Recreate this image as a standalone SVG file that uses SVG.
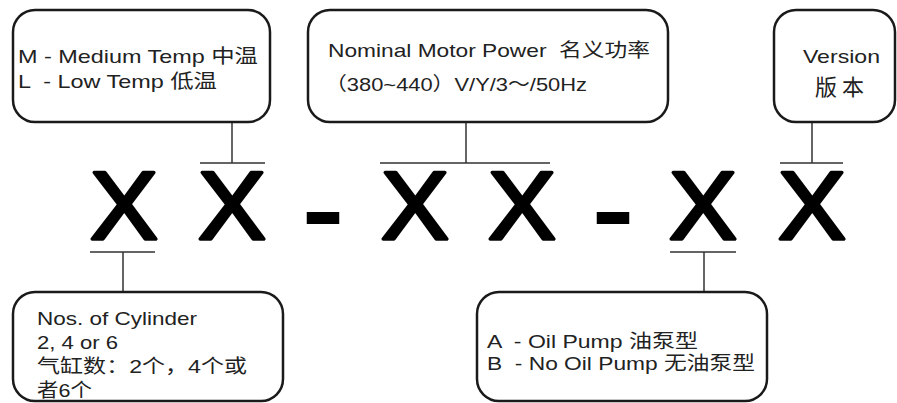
<svg xmlns="http://www.w3.org/2000/svg" width="897" height="403" viewBox="0 0 897 403">
<style>
.box{fill:#fff;stroke:#1a1a1a;stroke-width:2.5}
.t{font-family:"Liberation Sans","Noto Sans CJK SC",sans-serif;font-size:19px;fill:#222;white-space:pre}
.big{font-family:"Liberation Sans",Arial,sans-serif;font-size:97px;fill:#000;stroke:#000;stroke-width:3.5;stroke-linejoin:round;text-anchor:middle}
.dash{font-family:"Liberation Sans",Arial,sans-serif;font-size:100px;font-weight:bold;fill:#000;text-anchor:middle}
.c{stroke:#333;stroke-width:1.5;fill:none}
</style>
<rect width="897" height="403" fill="#fff"/>
<g id="connectors">
<path class="c" d="M232 122V163M200 163H265"/>
<path class="c" d="M466 122V163M380 163H550"/>
<path class="c" d="M812 122V163M780 163H843"/>
<path class="c" d="M90 252H155M123 252V292"/>
<path class="c" d="M670 252H736M704 252V292"/>
</g>
<g id="code">
<text class="big" transform="translate(124,239) scale(1.05,1)">X</text>
<text class="big" transform="translate(232,239) scale(1.05,1)">X</text>
<text class="dash" transform="translate(323,244) scale(1.28,1)">-</text>
<text class="big" transform="translate(415,239) scale(1.05,1)">X</text>
<text class="big" transform="translate(522,239) scale(1.05,1)">X</text>
<text class="dash" transform="translate(613,244) scale(1.28,1)">-</text>
<text class="big" transform="translate(703,239) scale(1.05,1)">X</text>
<text class="big" transform="translate(812,239) scale(1.05,1)">X</text>
</g>
<g id="temp">
<rect class="box" x="13" y="10" width="257" height="112" rx="22"/>
<text class="t" xml:space="preserve" x="18" y="63" textLength="240" lengthAdjust="spacingAndGlyphs">M - Medium Temp 中温</text>
<text class="t" xml:space="preserve" x="18" y="88" textLength="199" lengthAdjust="spacingAndGlyphs">L  - Low Temp 低温</text>
</g>
<g id="power">
<rect class="box" x="308" y="10" width="360" height="112" rx="22"/>
<text class="t" xml:space="preserve" x="328" y="57" textLength="322" lengthAdjust="spacingAndGlyphs">Nominal Motor Power  名义功率</text>
<text class="t" x="325" y="91" textLength="262" lengthAdjust="spacingAndGlyphs">（380~440）V/Y/3～/50Hz</text>
</g>
<g id="version">
<rect class="box" x="774" y="10" width="121" height="112" rx="22"/>
<text class="t" x="803" y="63" textLength="77" lengthAdjust="spacingAndGlyphs">Version</text>
<text class="t" x="842" y="95" text-anchor="middle" style="font-size:22px;letter-spacing:5px">版本</text>
</g>
<g id="cylinder">
<rect class="box" x="13" y="292" width="270" height="109" rx="22"/>
<text class="t" x="37" y="325" textLength="160" lengthAdjust="spacingAndGlyphs">Nos. of Cylinder</text>
<text class="t" x="37" y="349" textLength="81" lengthAdjust="spacingAndGlyphs">2, 4 or 6</text>
<text class="t" x="37" y="373" textLength="210" lengthAdjust="spacingAndGlyphs">气缸数：2个，4个或</text>
<text class="t" x="37" y="397" textLength="55" lengthAdjust="spacingAndGlyphs">者6个</text>
</g>
<g id="pump">
<rect class="box" x="477" y="292" width="290" height="109" rx="22"/>
<text class="t" xml:space="preserve" x="487" y="348" textLength="211" lengthAdjust="spacingAndGlyphs">A  - Oil Pump 油泵型</text>
<text class="t" xml:space="preserve" x="487" y="370" textLength="268" lengthAdjust="spacingAndGlyphs">B  - No Oil Pump 无油泵型</text>
</g>
</svg>
